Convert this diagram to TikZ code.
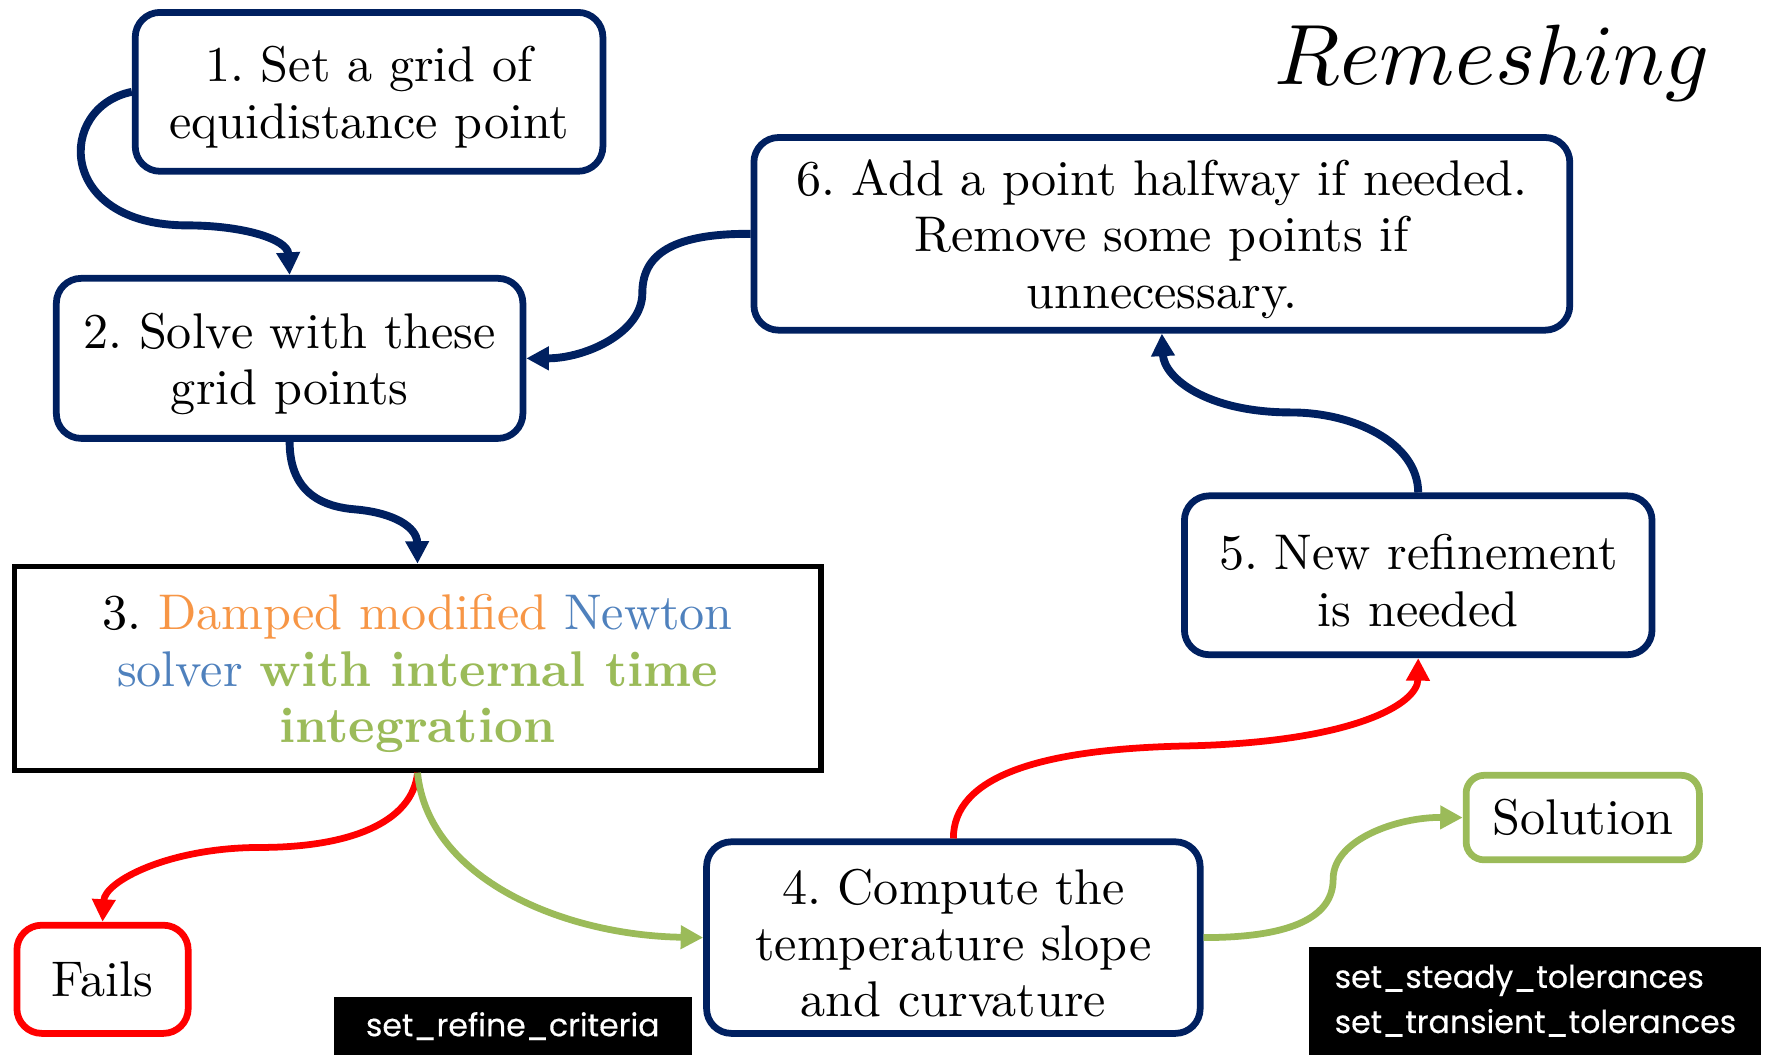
\documentclass[tikz,border=0pt]{standalone}
\usepackage{fontspec}
\setmainfont{lmroman10}[Extension=.otf, UprightFont=*-regular,
  BoldFont=*-bold, ItalicFont=*-italic, BoldItalicFont=*-bolditalic]
\newfontfamily\labelfont{Poppins}[FakeBold=0.4]
\usetikzlibrary{arrows.meta}

\definecolor{navy}{RGB}{0,32,96}
\definecolor{offorange}{HTML}{F79646}
\definecolor{offblue}{HTML}{4F81BD}
\definecolor{offgreen}{HTML}{9BBB59}
\definecolor{offred}{HTML}{FF0000}

\newcommand\boxfont{\fontsize{44.5}{50}\selectfont\frenchspacing}
% extra room above the first line of a box
\newcommand\topgap{\rule{0pt}{41pt}}

\begin{document}
\begin{tikzpicture}[x=1pt,y=-1pt,
  stepbox/.style={draw=navy, line width=6pt, rounded corners=22pt, fill=white,
    align=center, inner sep=0pt, font=\boxfont},
  solverbox/.style={draw=black, line width=4.5pt, fill=white,
    align=center, inner sep=0pt, font=\boxfont},
  failbox/.style={stepbox, draw=offred},
  okbox/.style={stepbox, draw=offgreen},
  codebox/.style={fill=black, text=white, inner sep=0pt, align=left,
    font=\labelfont\fontsize{28}{40}\selectfont},
  flow/.style={line width=7pt, -{Triangle[length=20pt,width=20pt]}},
  navyflow/.style={flow, draw=navy},
  redflow/.style={flow, line width=6pt, draw=offred},
  greenflow/.style={flow, line width=6pt, draw=offgreen}]

% canvas
\useasboundingbox (0,0) rectangle (1568,936);

% title
\node[anchor=base, inner sep=0pt, scale=7.6] (title) at (1324,75)
  {$Remeshing$};

% steps
\node[stepbox, minimum width=415pt, minimum height=141pt] (b1) at (327.5,81.5)
  {\topgap 1. Set a grid of\\equidistance point};
\node[stepbox, minimum width=414pt, minimum height=142pt] (b2) at (257,318)
  {\topgap 2. Solve with these\\grid points};
\node[solverbox, minimum width=716pt, minimum height=181pt] (b3) at (370.5,593)
  {\topgap 3. \textcolor{offorange}{Damped modified} \textcolor{offblue}{Newton}\\
   \textcolor{offblue}{solver} \textcolor{offgreen}{\bfseries with internal time}\\
   \textcolor{offgreen}{\bfseries integration}};
\node[stepbox, minimum width=438pt, minimum height=170pt] (b4) at (846,832)
  {\topgap 4. Compute the\\temperature slope\\and curvature};
\node[stepbox, minimum width=415pt, minimum height=141pt] (b5) at (1258.5,510.5)
  {\topgap 5. New refinement\\is needed};
\node[stepbox, minimum width=724pt, minimum height=171pt] (b6) at (1031,207.5)
  {\topgap 6. Add a point halfway if needed.\\Remove some points if\\unnecessary.};
\node[failbox, minimum width=152pt, minimum height=96pt] (fail) at (91,869)
  {Fails};
\node[okbox, minimum width=207pt, minimum height=75pt, rounded corners=16pt] (sol) at (1404.5,725.5)
  {Solution};

% solver option labels
\node[codebox, minimum width=318pt, minimum height=51pt] (crit) at (455,910.5)
  {set\_refine\_criteria};
\node[codebox, minimum width=401pt, minimum height=96pt] (tol) at (1362.5,888)
  {set\_steady\_tolerances\\set\_transient\_tolerances};

% connectors
\draw[navyflow] (b1.west) .. controls (50,95) and (50,200) .. (166,200)
  .. controls (215,200) and (255,212) .. (b2.north);
\draw[navyflow] (b2.south) .. controls (257,440) and (290,450) .. (315,452)
  .. controls (350,455) and (370,468) .. (b3.north);
\draw[navyflow] (b6.west) .. controls (590,207) and (570,230) .. (570,260)
  .. controls (570,295) and (520,318) .. (b2.east);
\draw[navyflow] (b5.north) .. controls (1258,392) and (1200,366) .. (1146,366)
  .. controls (1070,366) and (1033,335) .. (b6.south);
\draw[redflow] (b4.north) .. controls (846,690) and (920,665) .. (1050,662)
  .. controls (1200,659) and (1258,625) .. (b5.south);
\draw[redflow] (b3.south) .. controls (366,730) and (310,752) .. (231,752)
  .. controls (150,752) and (93,782) .. (fail.north);
\draw[greenflow] (b3.south) .. controls (380,780) and (500,830) .. (b4.west);
\draw[greenflow] (b4.east) .. controls (1150,832) and (1183,812) .. (1183,780)
  .. controls (1183,745) and (1240,725) .. (sol.west);
\end{tikzpicture}
\end{document}
